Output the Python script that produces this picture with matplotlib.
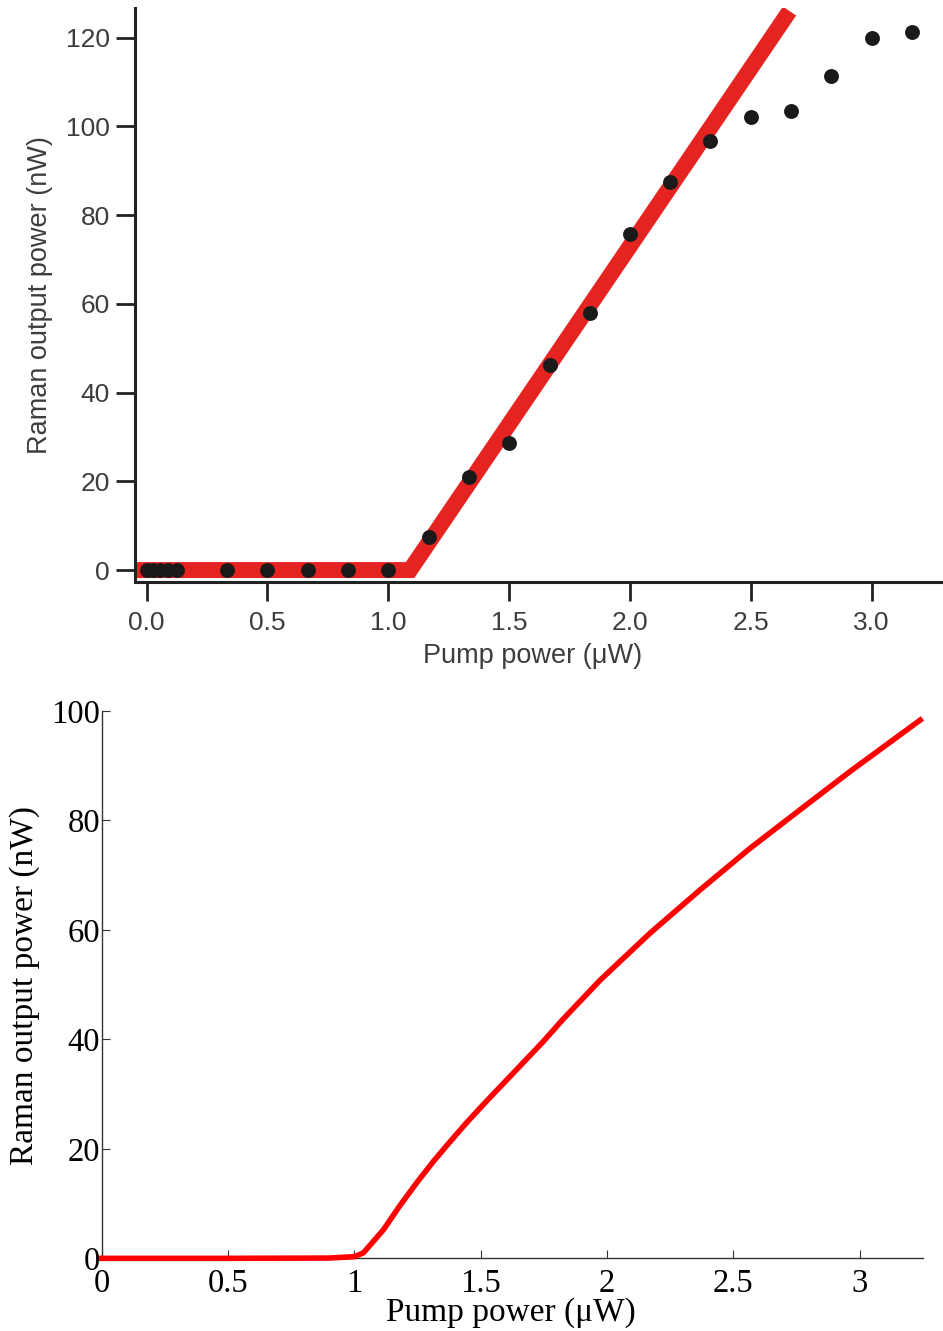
#Libraries
import matplotlib
matplotlib.use('Agg')
import matplotlib.pyplot as plt

#Measured data (top panel)
pump_meas=[0.0,0.026,0.055,0.087,0.125,0.333,0.5,0.667,0.833,1.0,1.167,1.333,1.5,1.667,1.833,2.0,2.167,2.333,2.5,2.667,2.833,3.0,3.167]
raman_meas=[0,0,0,0,0,0,0,0,0,0,7.5,21.0,28.6,46.2,57.9,75.7,87.4,96.7,102.1,103.5,111.4,120.0,121.2]

#Linear fit drawn as thick red band
fit_x=[-0.04,1.09,2.66]
fit_y=[0,0,126]

#Model curve (bottom panel)
model_x=[0,0.5,0.9,1.0,1.036,1.115,1.18,1.247,1.313,1.379,1.445,1.511,1.643,1.748,1.827,1.973,2.171,2.369,2.567,2.764,2.962,3.24]
model_y=[0,0,0.05,0.3,1.0,5.2,9.6,13.8,17.7,21.3,24.8,28.1,34.5,39.6,43.7,50.8,59.4,67.3,74.9,81.9,88.9,98.3]

top_xticks=[0.0,0.5,1.0,1.5,2.0,2.5,3.0]
top_xlabels=['0.0','0.5','1.0','1.5','2.0','2.5','3.0']
top_yticks=[0,20,40,60,80,100,120]
bot_xticks=[0,0.5,1,1.5,2,2.5,3]
bot_xlabels=['0','0.5','1','1.5','2','2.5','3']
bot_yticks=[0,20,40,60,80,100]

fig=plt.figure(figsize=(9.43,13.31),dpi=100)

#Top panel
gray='#3d3d3d'
ax1=fig.add_axes([0.1432,0.5627,0.8568,0.4313])
ax1.plot(fit_x,fit_y,color='#e52421',lw=11.5,solid_capstyle='butt',solid_joinstyle='miter',zorder=2)
ax1.scatter(pump_meas,raman_meas,s=115,color='#1a1a1a',zorder=3,linewidths=0)
ax1.set_xlim(-0.048,3.295)
ax1.set_ylim(-2.7,126.7)
ax1.spines['top'].set_visible(False)
ax1.spines['right'].set_visible(False)
for s in ['left','bottom']:
    ax1.spines[s].set_linewidth(2.2)
    ax1.spines[s].set_color('#222222')
ax1.set_xticks(top_xticks)
ax1.set_xticklabels(top_xlabels)
ax1.set_yticks(top_yticks)
ax1.tick_params(axis='both',direction='out',length=14,width=2,color='#222222',labelsize=19,labelcolor=gray,labelfontfamily='Liberation Sans')
ax1.tick_params(axis='x',pad=7)
ax1.tick_params(axis='y',pad=4)
ax1.set_xlabel('Pump power (\u03bcW)',fontsize=19.5,color=gray,family='Liberation Sans')
ax1.set_ylabel('Raman output power (nW)',fontsize=19.5,color=gray,family='Liberation Sans')
ax1.xaxis.set_label_coords(0.4926,-0.129)
ax1.yaxis.set_label_coords(-0.1176,0.5)
ax1.xaxis.label.set_va('center')
ax1.yaxis.label.set_va('center')

#Bottom panel
ax2=fig.add_axes([0.1078,0.0546,0.8707,0.4114])
ax2.plot(model_x,model_y,color='#ff0000',lw=4,clip_on=False,zorder=5)
ax2.set_xlim(0,3.25)
ax2.set_ylim(0,100)
ax2.spines['top'].set_visible(False)
ax2.spines['right'].set_visible(False)
for s in ['left','bottom']:
    ax2.spines[s].set_linewidth(1.0)
    ax2.spines[s].set_color('#333333')
ax2.set_xticks(bot_xticks)
ax2.set_xticklabels(bot_xlabels)
ax2.set_yticks(bot_yticks)
ax2.tick_params(axis='both',direction='in',length=6,width=0.8,color='#333333',labelsize=23.5,labelcolor='black',labelfontfamily='Liberation Serif')
ax2.tick_params(axis='x',pad=7)
ax2.tick_params(axis='y',pad=1)
ax2.set_xlabel('Pump power (\u03bcW)',fontsize=24,family='Liberation Serif')
ax2.set_ylabel('Raman output power (nW)',fontsize=24,family='Liberation Serif')
ax2.xaxis.set_label_coords(0.4985,-0.1)
ax2.yaxis.set_label_coords(-0.0934,0.499)
ax2.xaxis.label.set_va('center')
ax2.yaxis.label.set_va('center')

plt.savefig('out.png',dpi=100)
